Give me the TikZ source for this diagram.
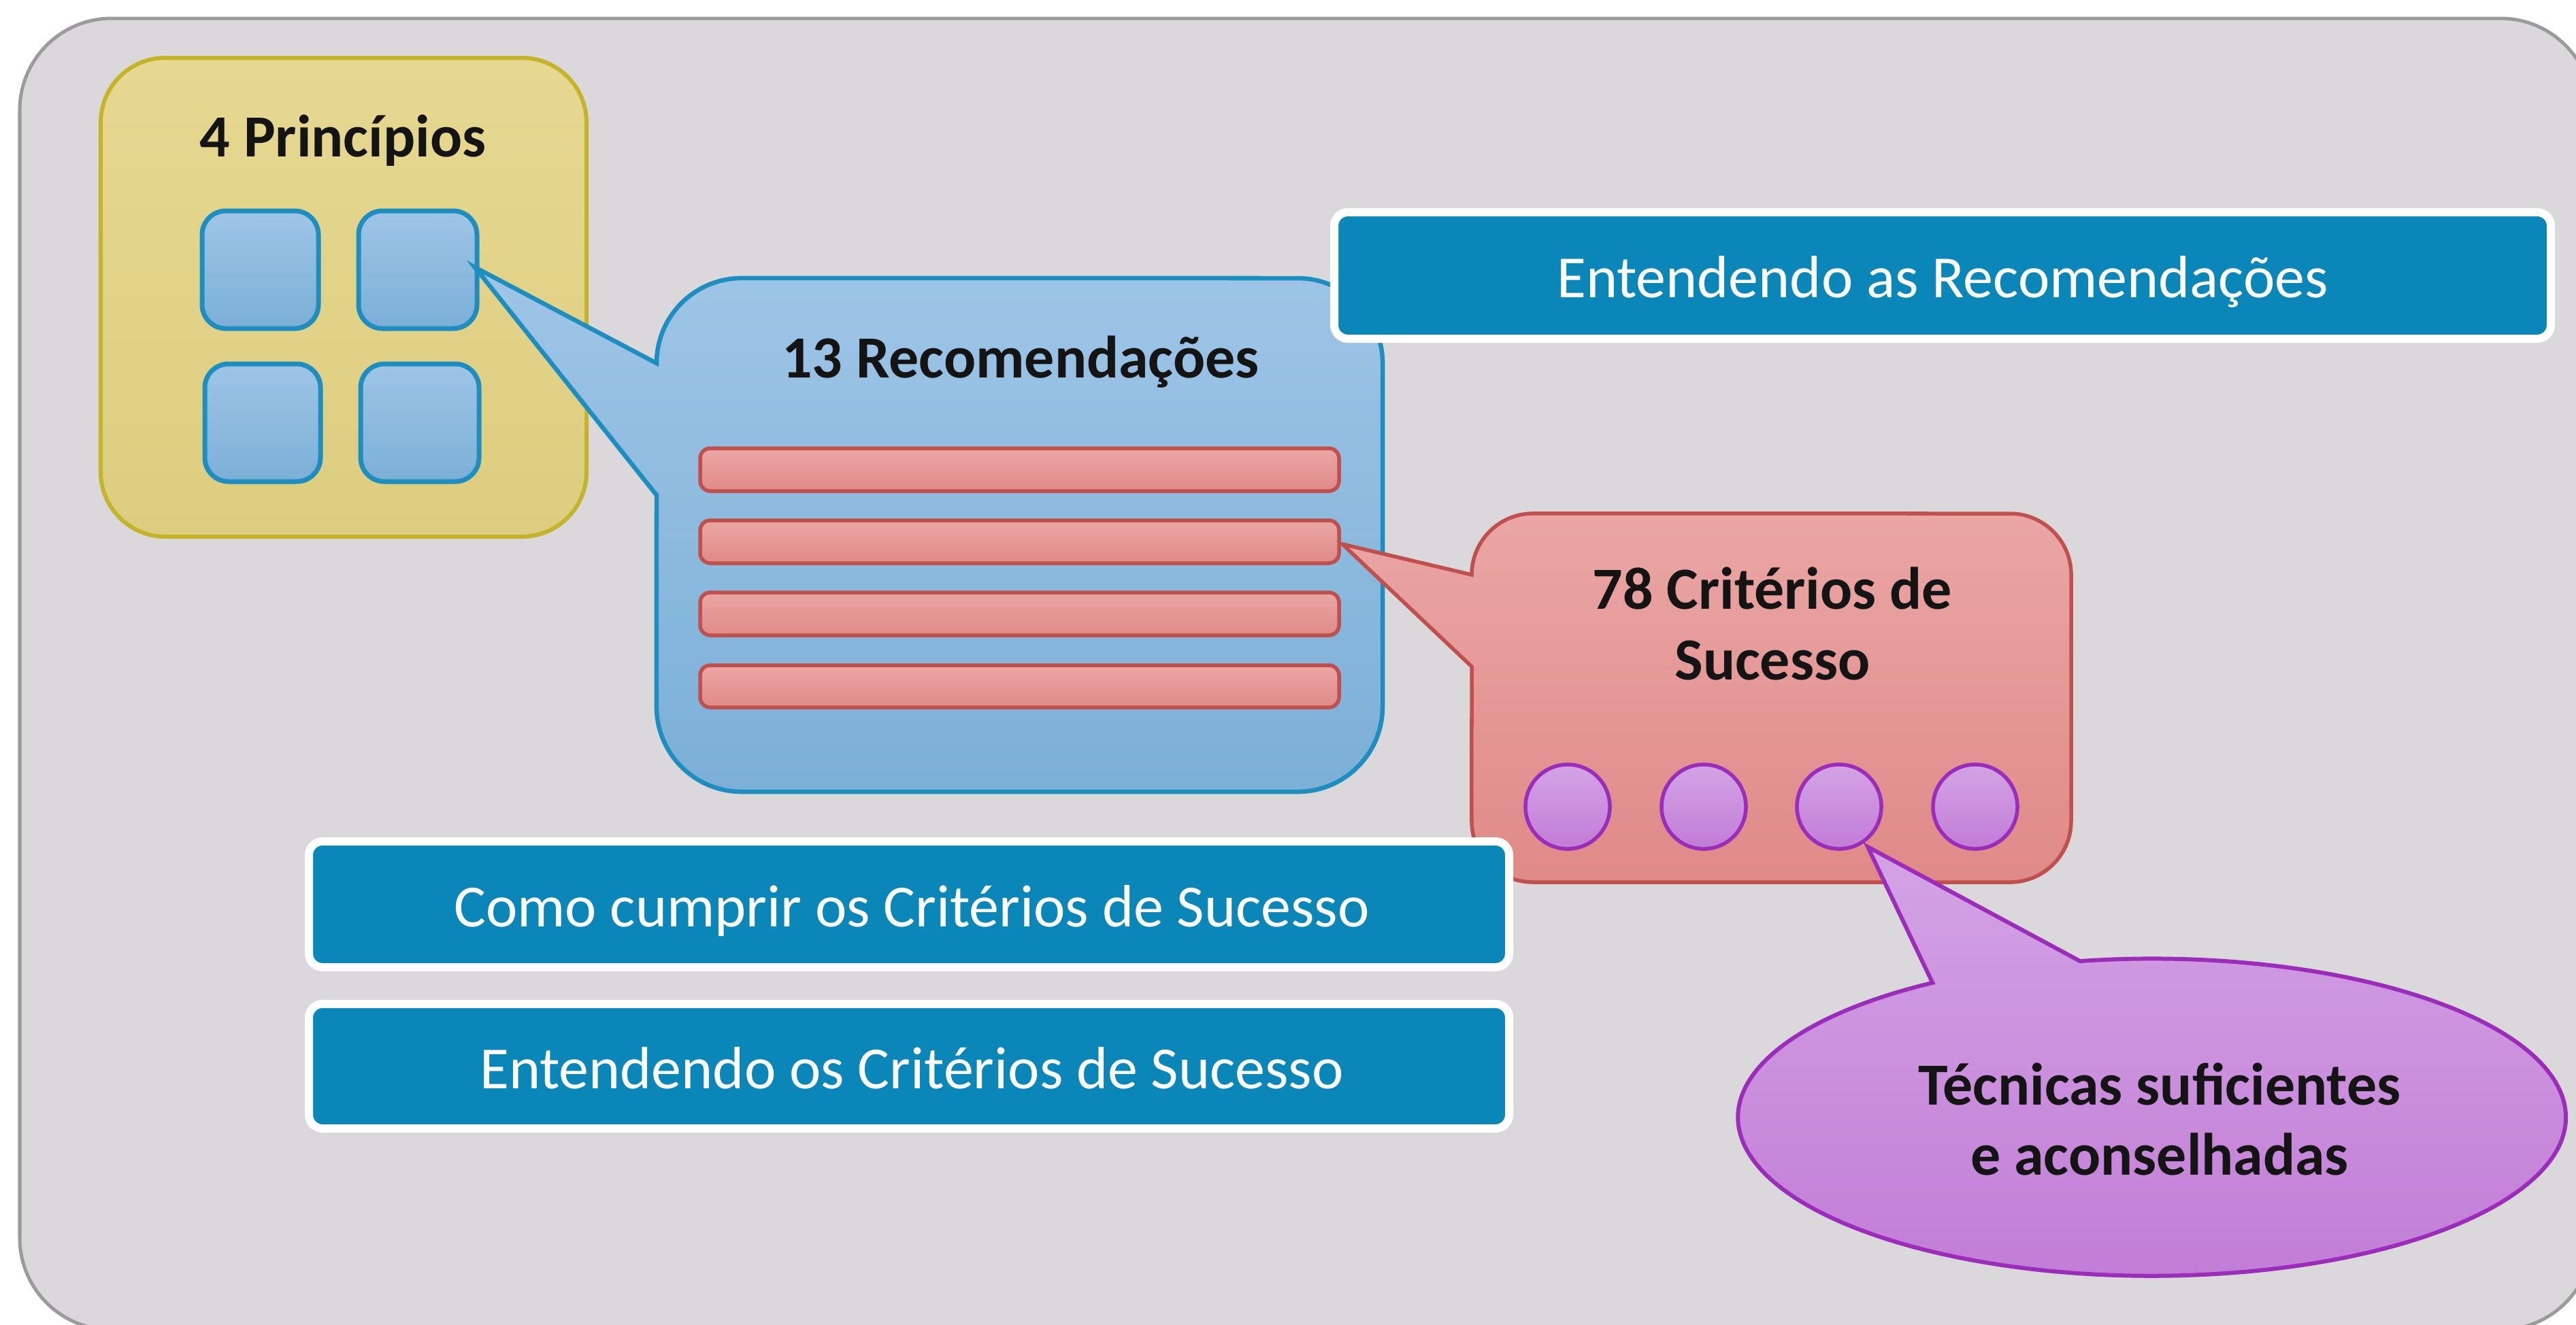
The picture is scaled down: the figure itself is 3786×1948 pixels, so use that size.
\documentclass[tikz,border=0pt]{standalone}
\usepackage{fontspec}
\setmainfont{Carlito}
\definecolor{bgFill}{HTML}{DAD8DB}
\definecolor{bgLine}{HTML}{9B9B9B}
\definecolor{yelTop}{HTML}{E6D891}
\definecolor{yelBot}{HTML}{DDCD80}
\definecolor{yelLine}{HTML}{C4B42A}
\definecolor{bluTop}{HTML}{9EC5E6}
\definecolor{bluBot}{HTML}{7CAFD7}
\definecolor{bluLine}{HTML}{1E8DBF}
\definecolor{redTop}{HTML}{EAA6A4}
\definecolor{redBot}{HTML}{DF8A89}
\definecolor{redLine}{HTML}{C0504D}
\definecolor{purTop}{HTML}{D3A3E5}
\definecolor{purBot}{HTML}{C27CD6}
\definecolor{purLine}{HTML}{9B2DBA}
\definecolor{boxBlue}{HTML}{0B86B9}
\tikzset{
  boldtext/.style={font=\fontsize{25pt}{30pt}\selectfont\bfseries, text=black!92, anchor=base, inner sep=0pt},
  labeltext/.style={font=\fontsize{25pt}{30pt}\selectfont, text=white, anchor=base, inner sep=0pt},
  bgstyle/.style={fill=bgFill, draw=bgLine, line width=0.05cm, rounded corners=1.35cm},
  yellowbox/.style={top color=yelTop, bottom color=yelBot, draw=yelLine, line width=0.06cm, rounded corners=0.95cm},
  bluesq/.style={top color=bluTop, bottom color=bluBot, draw=bluLine, line width=0.07cm, rounded corners=0.35cm},
  bluebubble/.style={top color=bluTop, bottom color=bluBot, draw=bluLine, line width=0.065cm, line join=miter},
  redbar/.style={top color=redTop, bottom color=redBot, draw=redLine, line width=0.055cm, rounded corners=0.15cm},
  redbubble/.style={top color=redTop, bottom color=redBot, draw=redLine, line width=0.055cm, line join=miter},
  purplecircle/.style={top color=purTop, bottom color=purBot, draw=purLine, line width=0.055cm},
  purplebubble/.style={top color=purTop, bottom color=purBot, draw=purLine, line width=0.06cm, line join=miter},
  labelbox/.style={fill=boxBlue, draw=white, line width=0.12cm, rounded corners=0.2cm},
}
\begin{document}
\begin{tikzpicture}[x=0.01cm,y=0.01cm]
\useasboundingbox (0,0) rectangle (3786,-1948);
\fill[white] (0,0) rectangle (3786,-1948);
% outer panel
\draw[bgstyle] (29,-27) rectangle (3810,-1955);
% principles
\draw[yellowbox] (148,-85) rectangle (862,-789);
\node[boldtext] (prin) at (504,-230) {4 Princípios};
\draw[bluesq] (297,-310) rectangle (468,-483);
\draw[bluesq] (527,-310) rectangle (701,-483);
\draw[bluesq] (301,-535) rectangle (471,-708);
\draw[bluesq] (530,-535) rectangle (704,-708);
% recommendations bubble
\draw[bluebubble] (698,-393) -- (965,-534)
  arc[start angle=180,end angle=90,radius=1.25cm] -- (1907,-409)
  arc[start angle=90,end angle=0,radius=1.25cm] -- (2032,-1039)
  arc[start angle=0,end angle=-90,radius=1.25cm] -- (1090,-1164)
  arc[start angle=-90,end angle=-180,radius=1.25cm] -- (965,-728) -- cycle;
\node[boldtext] (rec) at (1500,-555) {13 Recomendações};
\draw[redbar] (1029,-659) rectangle (1968,-722);
\draw[redbar] (1029,-765) rectangle (1968,-828);
\draw[redbar] (1029,-871) rectangle (1968,-934);
\draw[redbar] (1029,-978) rectangle (1968,-1040);
% label box top
\draw[labelbox] (1961,-312) rectangle (3749,-498);
\node[labeltext] (entrec) at (2855,-437) {Entendendo as Recomendações};
% criteria bubble
\draw[redbubble] (1973,-800) -- (2163,-845)
  arc[start angle=180,end angle=90,radius=0.9cm] -- (2954,-755)
  arc[start angle=90,end angle=0,radius=0.9cm] -- (3044,-1207)
  arc[start angle=0,end angle=-90,radius=0.9cm] -- (2253,-1297)
  arc[start angle=-90,end angle=-180,radius=0.9cm] -- (2163,-980) -- cycle;
\node[boldtext] (crit1) at (2605,-895) {78 Critérios de};
\node[boldtext] (crit2) at (2605,-999) {Sucesso};
\draw[purplecircle] (2304,-1186) circle[radius=0.62cm];
\draw[purplecircle] (2504,-1186) circle[radius=0.62cm];
\draw[purplecircle] (2703,-1186) circle[radius=0.62cm];
\draw[purplecircle] (2903,-1186) circle[radius=0.62cm];
% lower label boxes
\draw[labelbox] (454,-1237) rectangle (2218,-1422);
\node[labeltext] (como) at (1340,-1362) {Como cumprir os Critérios de Sucesso};
\draw[labelbox] (454,-1476) rectangle (2218,-1659);
\node[labeltext] (entcrit) at (1340,-1600) {Entendendo os Critérios de Sucesso};
% techniques bubble
\draw[purplebubble] (2745,-1245) -- (3057,-1413)
  arc[start angle=100,end angle=-238,x radius=6.08cm,y radius=2.33cm] -- cycle;
\node[boldtext] (tec1) at (3174,-1624) {Técnicas suficientes};
\node[boldtext] (tec2) at (3174,-1727) {e aconselhadas};
\end{tikzpicture}
\end{document}
